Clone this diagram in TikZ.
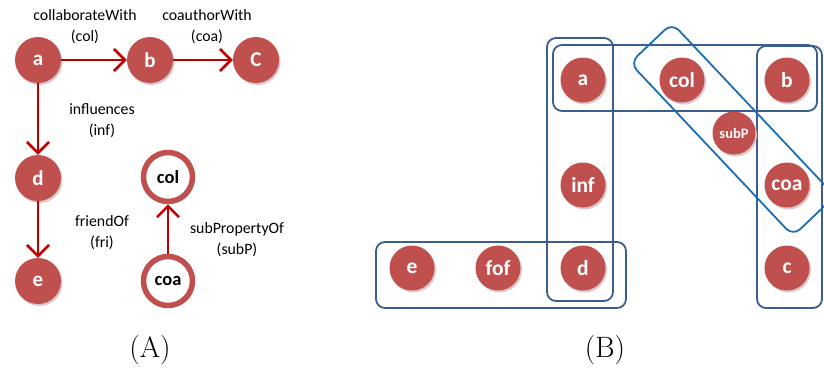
\documentclass[tikz,border=0pt]{standalone}
\usepackage{fontspec}
\newfontfamily\calib{Carlito}
\usetikzlibrary{arrows.meta,shadows}
\definecolor{nodered}{HTML}{C0504D}
\definecolor{arrred}{HTML}{C00000}
\definecolor{boxblue}{HTML}{3A5F8F}
\definecolor{diagblue}{HTML}{1B6DB5}
\definecolor{shadowc}{HTML}{DCC8C8}
\tikzset{
  shd/.style={drop shadow={shadow xshift=1.5pt, shadow yshift=-2pt, fill=shadowc, opacity=1}},
  rnode/.style={circle, fill=nodered, text=white, shd, font=\calib\bfseries\fontsize{21}{23}\selectfont, minimum size=46pt, inner sep=0pt},
  bnode/.style={rnode, minimum size=45pt, font=\calib\bfseries\fontsize{21.5}{23}\selectfont},
  snode/.style={rnode, minimum size=43pt, font=\calib\bfseries\fontsize{14.5}{16}\selectfont},
  hnode/.style={circle, draw=nodered, line width=5.5pt, fill=white, text=black, shd, font=\calib\bfseries\fontsize{18.5}{20}\selectfont, minimum size=49pt, inner sep=0pt},
  arr/.style={draw=arrred, line width=2.6pt, -{Straight Barb[length=11pt, width=22pt]}},
  lbl/.style={font=\calib\fontsize{15.8}{21}\selectfont, align=center, text=black},
  grp/.style={draw=boxblue, line width=1.8pt, rounded corners=9pt},
  dgrp/.style={draw=diagblue, line width=1.8pt, rounded corners=10pt},
  captxt/.style={font=\fontsize{29.5}{31}\selectfont}
}
\begin{document}
\begin{tikzpicture}[x=1pt, y=-1pt]
\useasboundingbox (0,0) rectangle (824,370);
\clip (0,0) rectangle (824,370);
% ---- Part A ----
\node[rnode] (a) at (38,60) {a};
\node[rnode] (b) at (150,60) {b};
\node[rnode] (C) at (256,60) {C};
\node[rnode] (d) at (38,178) {d};
\node[rnode] (e) at (38,281) {e};
\node[hnode] (hcol) at (168,177) {col};
\node[hnode] (hcoa) at (168,281) {coa};
\draw[arr] (a) -- (b);
\draw[arr] (b) -- (C);
\draw[arr] (a) -- (d);
\draw[arr] (d) -- (e);
\draw[arr] (hcoa) -- (hcol);
\node[lbl] (l1) at (85,27) {collaborateWith\\(col)};
\node[lbl] (l2) at (207,27) {coauthorWith\\(coa)};
\node[lbl] (l3) at (102,121) {influences\\(inf)};
\node[lbl] (l4) at (102,233) {friendOf\\(fri)};
\node[lbl] (l5) at (237,240) {subPropertyOf\\(subP)};
\node[captxt] (capA) at (150,350) {(A)};
% ---- Part B ----
\draw[grp] (547,38) rectangle (613,301);
\draw[grp] (553,45) rectangle (817,111);
\draw[grp] (757,46) rectangle (822,308);
\draw[grp] (376,242) rectangle (626,308);
\draw[dgrp] (630,63) -- (672,23) -- (835,196) -- (793,236) -- cycle;
\node[bnode] (ba) at (583,80) {a};
\node[bnode] (bcol) at (682,80) {col};
\node[bnode] (bb) at (787,80) {b};
\node[snode] (bsub) at (734,133) {subP};
\node[bnode] (binf) at (583,185) {inf};
\node[bnode] (bcoa) at (787,185) {coa};
\node[bnode] (be) at (412,268) {e};
\node[bnode] (bfof) at (498,268) {fof};
\node[bnode] (bd) at (583,268) {d};
\node[bnode] (bc) at (787,268) {c};
\node[captxt] (capB) at (605,350) {(B)};
\end{tikzpicture}
\end{document}
